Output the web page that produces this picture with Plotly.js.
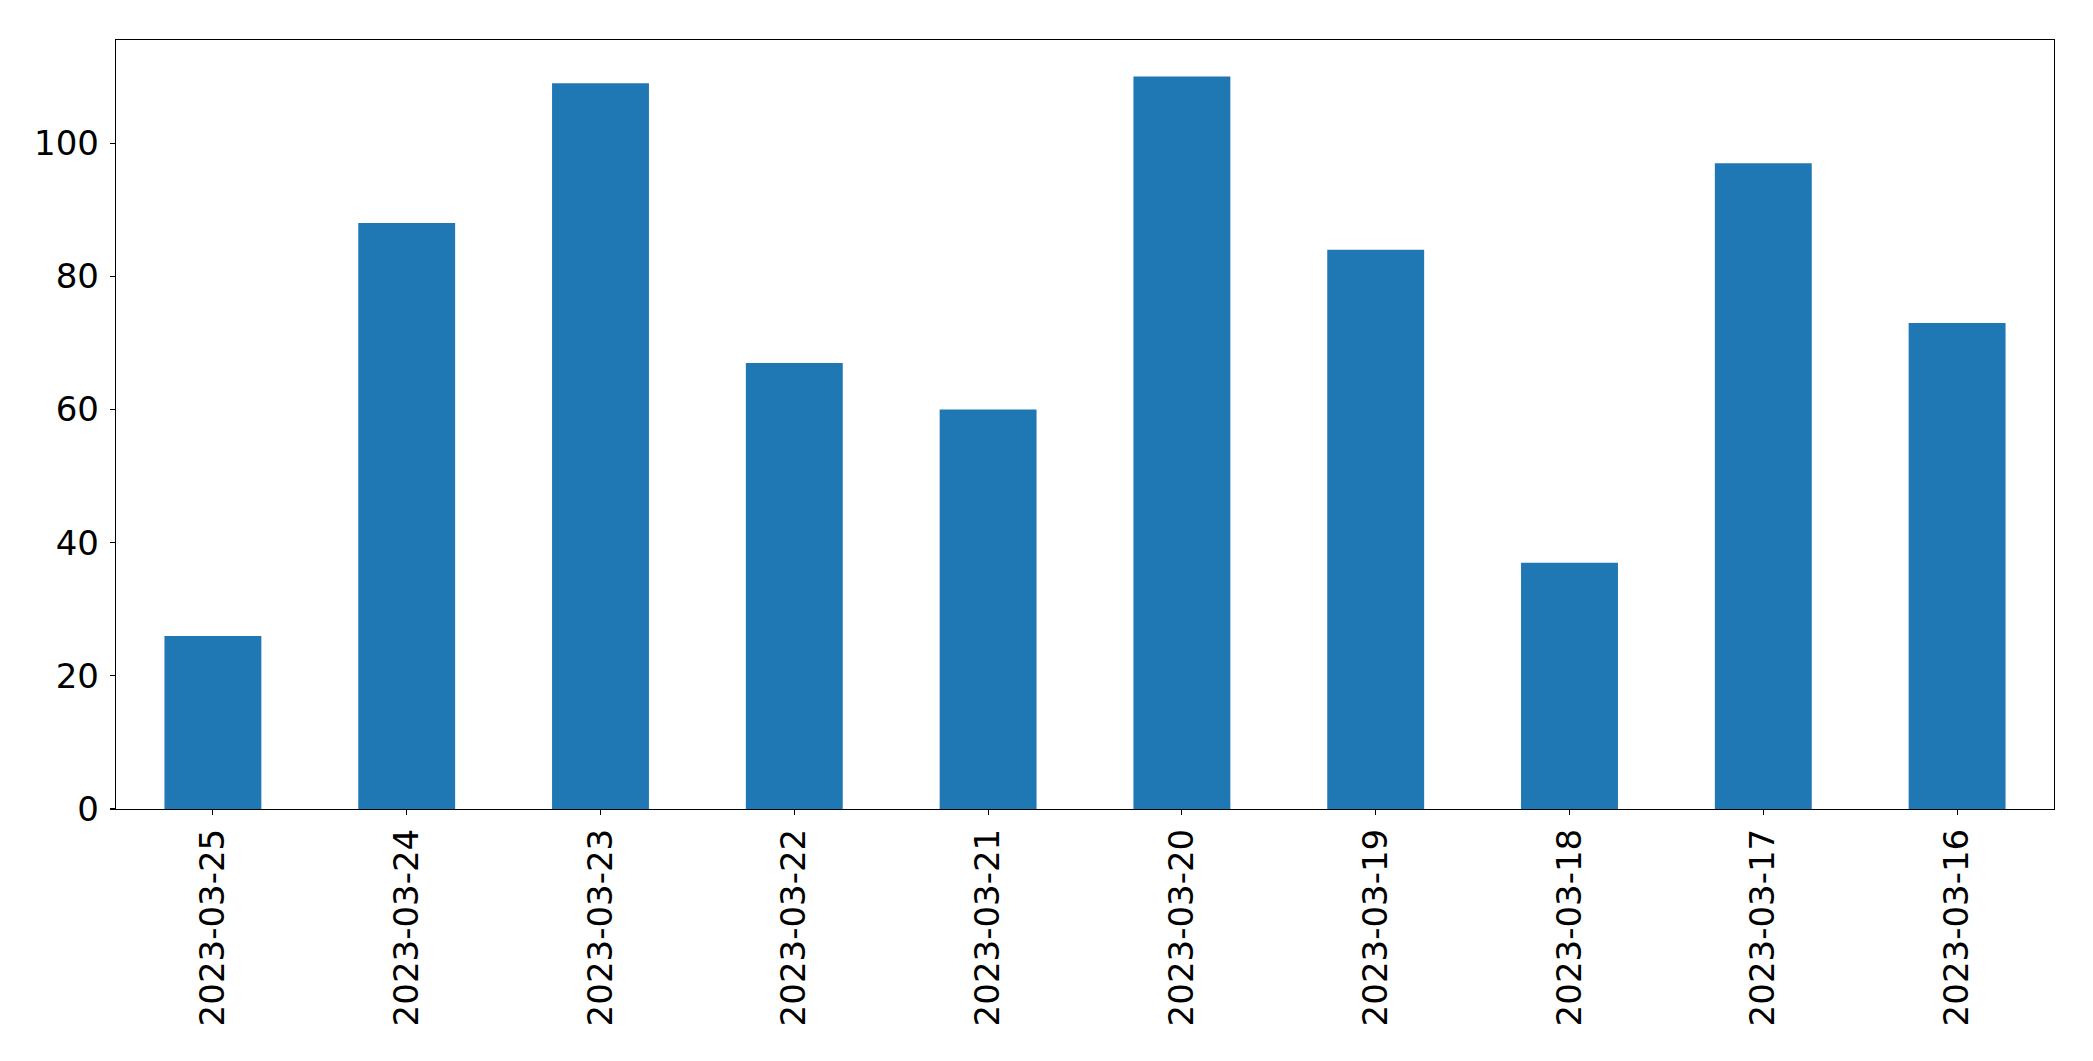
<!DOCTYPE html>
<html>
<head>
<meta charset="utf-8">
<script src="https://cdn.plot.ly/plotly-3.0.1.min.js"></script>
<style>
  html, body { margin: 0; padding: 0; background: #fff; }
  #chart { width: 2093px; height: 1061px; }
</style>
</head>
<body>
<div id="chart"></div>
<script>
const categories = ["2023-03-25", "2023-03-24", "2023-03-23", "2023-03-22", "2023-03-21",
                    "2023-03-20", "2023-03-19", "2023-03-18", "2023-03-17", "2023-03-16"];
const values = [26, 88, 109, 67, 60, 110, 84, 37, 97, 73];
const yTicks = [0, 20, 40, 60, 80, 100];

const font = "DejaVu Sans, sans-serif";

const trace = {
  type: "bar",
  x: categories,
  y: values,
  width: 0.5,
  marker: { color: "#1f77b4", line: { width: 0 } },
  hoverinfo: "x+y"
};

const layout = {
  width: 2093,
  height: 1061,
  margin: { l: 116, r: 39, t: 40, b: 252, pad: 0 },
  paper_bgcolor: "#ffffff",
  plot_bgcolor: "#ffffff",
  showlegend: false,
  font: { family: font, size: 34, color: "#000000" },
  xaxis: {
    type: "category",
    range: [-0.5, 9.5],
    tickangle: -90,
    showline: true, mirror: true, linecolor: "#000000", linewidth: 1.2,
    ticks: "outside", ticklen: 5, tickwidth: 1.1, tickcolor: "#000000",
    showgrid: false, zeroline: false,
    ticklabelstandoff: 0,
    tickfont: { family: font, size: 34, color: "#000000" }
  },
  yaxis: {
    range: [0, 115.5],
    tickvals: yTicks,
    ticktext: yTicks.map(String),
    showline: true, mirror: true, linecolor: "#000000", linewidth: 1.2,
    ticks: "outside", ticklen: 5, tickwidth: 1.1, tickcolor: "#000000",
    showgrid: false, zeroline: false,
    ticklabelstandoff: 4,
    tickfont: { family: font, size: 34, color: "#000000" }
  }
};

Plotly.newPlot("chart", [trace], layout, { displayModeBar: false, staticPlot: true });
</script>
</body>
</html>
